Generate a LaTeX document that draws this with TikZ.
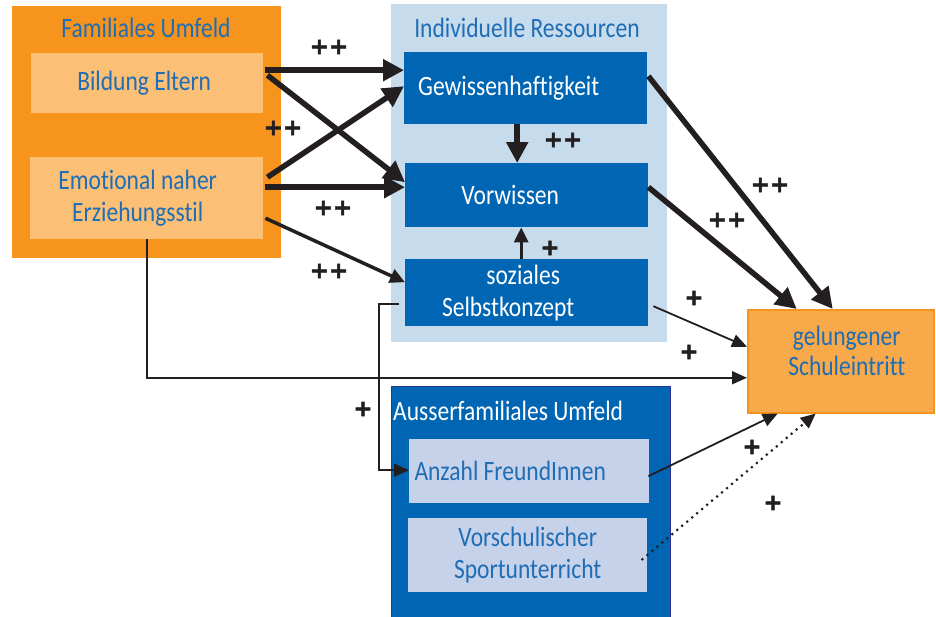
\documentclass[tikz,border=0pt]{standalone}
\usepackage{fontspec}
\setmainfont{Carlito}[FakeStretch=0.84, Ligatures={NoCommon}]
\newfontfamily\plusfont{DejaVu Sans Bold}[FakeBold=2]
\usetikzlibrary{arrows.meta}
\definecolor{orangeA}{HTML}{F7941D}
\definecolor{orangeB}{HTML}{FBBF76}
\definecolor{orangeC}{HTML}{F8A94A}
\definecolor{blueA}{HTML}{0066B3}
\definecolor{blueL}{HTML}{C6DBEC}
\definecolor{blueP}{HTML}{C6D1EA}
\definecolor{blueT}{HTML}{1F6DB4}
\definecolor{ink}{HTML}{231F20}
\definecolor{navyB}{HTML}{2E3192}
\tikzset{
  box/.style={anchor=north west, inner sep=0pt, align=center,
    font=\fontsize{28}{32}\selectfont},
  ttl/.style={anchor=base, inner sep=0pt, font=\fontsize{28}{32}\selectfont},
  sgn/.style={inner sep=0pt, font=\plusfont\fontsize{23}{24}\selectfont, text=ink},
  thickarrow/.style={draw=ink, line width=5.5pt, -{Triangle[length=21pt,width=21pt]}},
  medarrow/.style={draw=ink, line width=3.5pt, -{Triangle[length=15pt,width=14pt]}},
  thinarrow/.style={draw=ink, line width=1.8pt, -{Triangle[length=15pt,width=13pt]}},
  dotarrow/.style={draw=ink, line width=3pt, line cap=round, dash pattern=on 0pt off 6.5pt,
    -{Triangle[length=15pt,width=13pt]}},
}
\begin{document}
\begin{tikzpicture}[x=1pt,y=-1pt]
\useasboundingbox (0,0) rectangle (936,616);
% groups
\node[box, fill=orangeA, minimum width=269pt, minimum height=252pt] (fam) at (12,6) {};
\node[box, fill=blueL, minimum width=276pt, minimum height=338pt] (ind) at (391,4) {};
\node[box, fill=blueA, draw=navyB, line width=1.2pt, minimum width=279pt, minimum height=234pt] (aus) at (391,386) {};
% titles
\node[ttl, text=blueT] (famt) at (146,37) {Familiales Umfeld};
\node[ttl, text=blueT] (indt) at (527,37) {Individuelle Ressourcen};
\node[ttl, text=white, anchor=base west] (aust) at (393,420) {Ausserfamiliales Umfeld};
% boxes
\node[box, fill=orangeB, text=blueT, minimum width=232pt, minimum height=60pt] (bild) at (31,53) {Bildung Eltern\hspace*{6pt}};
\node[box, fill=orangeB, text=blueT, minimum width=233pt, minimum height=82pt] (emo) at (30,157) {Emotional naher\hspace*{18pt}\\Erziehungsstil\hspace*{18pt}};
\node[box, fill=blueA, text=white, minimum width=243pt, minimum height=72pt] (gew) at (404,52) {Gewissenhaftigkeit\hspace*{34pt}};
\node[box, fill=blueA, text=white, minimum width=243pt, minimum height=64pt] (vor) at (405,163) {Vorwissen\hspace*{33pt}};
\node[box, fill=blueA, text=white, minimum width=243pt, minimum height=67pt] (soz) at (405,259) {soziales\hspace*{7pt}\\Selbstkonzept\hspace*{37pt}};
\node[box, fill=orangeC, draw=orangeA, line width=1.5pt, text=blueT, minimum width=186pt, minimum height=103pt] (sch) at (747,309) {\hspace*{12pt}gelungener\\[-2pt]\hspace*{12pt}Schuleintritt\\[-12pt]\mbox{}};
\node[box, fill=blueP, text=blueT, minimum width=240pt, minimum height=64pt] (anz) at (409,439) {Anzahl FreundInnen\hspace*{38pt}};
\node[box, fill=blueP, text=blueT, minimum width=239pt, minimum height=74pt] (vsch) at (408,518) {Vorschulischer\\Sportunterricht};
% arrows
\draw[thickarrow] ([xshift=2pt,yshift=13pt]bild.east) -- ([yshift=18pt]gew.west);
\draw[thickarrow] ([xshift=4pt,yshift=8pt]bild.east) -- ([yshift=13pt]vor.west);
\draw[thickarrow] ([xshift=4pt,yshift=21pt]emo.east) -- ([yshift=2pt]gew.west);
\draw[thickarrow] ([xshift=2pt,yshift=11pt]emo.east) -- ([yshift=8pt]vor.west);
\draw[medarrow] ([xshift=2pt,yshift=-20pt]emo.east) -- ([yshift=10.5pt]soz.west);
\draw[thinarrow] (emo.south) |- ([yshift=-16.5pt]sch.west);
\draw[thinarrow] ([xshift=-6pt,yshift=-11pt]soz.west) -- ++(-20,0) |- ([yshift=1pt]anz.west);
\draw[thinarrow] ([xshift=5pt,yshift=-13.5pt]soz.east) -- ([yshift=14.5pt]sch.west);
\draw[thickarrow] ([xshift=1pt,yshift=12pt]gew.east) -- ([xshift=-8pt]sch.north);
\draw[thickarrow] ([yshift=8pt]vor.east) -- ([xshift=-44pt]sch.north);
\draw[thinarrow] ([xshift=-1pt,yshift=-5pt]anz.east) -- ([xshift=-63pt]sch.south);
\draw[dotarrow] ([xshift=-5pt,yshift=-4pt]vsch.east) -- ([xshift=-25pt]sch.south);
\draw[thickarrow] ([xshift=-8.5pt]gew.south) -- ([xshift=-9.5pt]vor.north);
\draw[medarrow, line width=3pt] ([xshift=-5.5pt]soz.north) -- ([xshift=-5.5pt]vor.south);
% signs
\node[sgn] (s1) at (329,47) {++};
\node[sgn] (s2) at (283,128) {++};
\node[sgn] (s3) at (333,208) {++};
\node[sgn] (s4) at (329,271) {++};
\node[sgn] (s5) at (563,140) {++};
\node[sgn] (s6) at (550,248) {+};
\node[sgn] (s7) at (770,185) {++};
\node[sgn] (s8) at (727,220) {++};
\node[sgn] (s9) at (694,298) {+};
\node[sgn] (s10) at (689,352) {+};
\node[sgn] (s11) at (363,409) {+};
\node[sgn] (s12) at (752,447) {+};
\node[sgn] (s13) at (773,503) {+};
\end{tikzpicture}
\end{document}
